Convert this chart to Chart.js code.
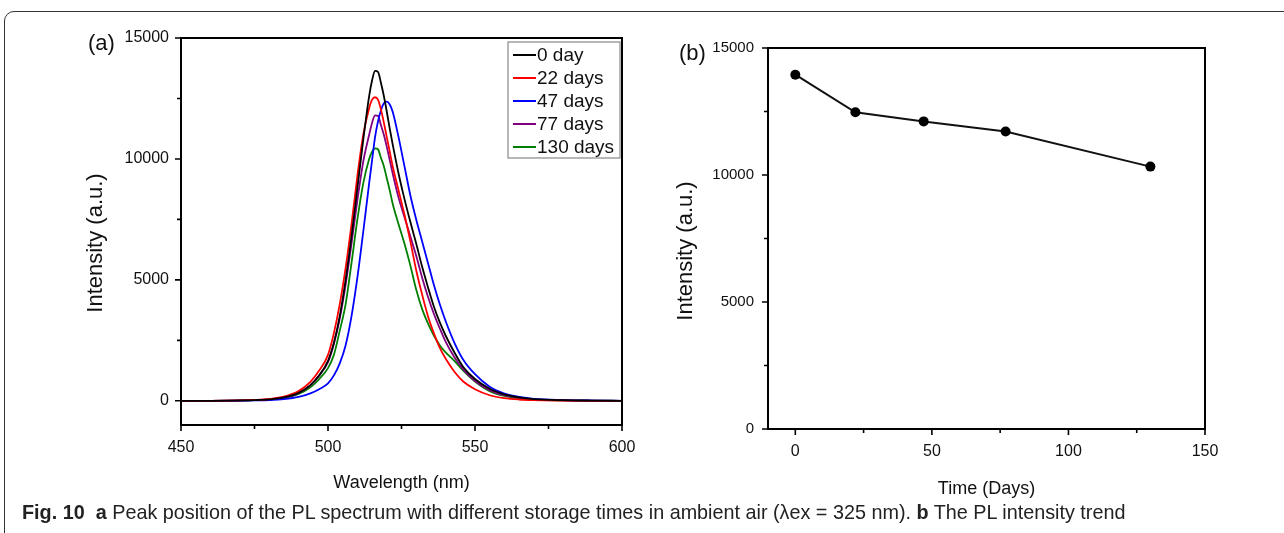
<!DOCTYPE html>
<html>
<head>
<meta charset="utf-8">
<script src="https://cdn.jsdelivr.net/npm/chart.js@4.4.1/dist/chart.umd.min.js"></script>
<style>
html,body{margin:0;padding:0;background:#fff;width:1284px;height:533px;overflow:hidden;position:relative;}
#frame{position:absolute;left:4px;top:11px;width:1320px;height:560px;border:1.5px solid #333;border-radius:10px;box-sizing:border-box;}
#c1{position:absolute;left:0;top:0;}
#c2{position:absolute;left:650px;top:0;}
.plabel{position:absolute;font-family:"Liberation Sans",Arial,sans-serif;font-size:22px;color:#111;line-height:26px;}
#caption{position:absolute;left:22px;top:501px;font-family:"Liberation Sans",Arial,sans-serif;font-size:19.8px;line-height:22px;white-space:nowrap;color:#222;}
</style>
</head>
<body>
<div id="frame"></div>
<canvas id="c1" width="650" height="533"></canvas>
<canvas id="c2" width="634" height="533"></canvas>
<div class="plabel" style="left:88px;top:30px;">(a)</div>
<div class="plabel" style="left:679px;top:40px;">(b)</div>
<div id="caption"><b>Fig. 10</b>&nbsp; <b>a</b> Peak position of the PL spectrum with different storage times in ambient air (λex = 325 nm). <b>b</b> The PL intensity trend</div>
<script>
// ---- Panel (a): PL spectra ----
const wavelengths = [450,460,470,475,480,485,490,494,497,500,502,504,506,508,510,512,514,515,516,517,518,519,520,521,522,524,526,528,530,532,534,536,538,540,543,546,550,555,560,565,570,580,590,600];
const seriesLabels = ["0 day","22 days","47 days","77 days","130 days"];
const seriesColors = ["#000000","#ff0000","#0000ff","#800080","#008000"];
const day0   = [0,0,15,30,60,140,330,650,1050,1650,2400,3500,5000,6800,8800,10800,12600,13250,13640,13600,13150,12600,11950,11250,10600,9400,8350,7400,6500,5550,4700,3900,3250,2700,2000,1400,900,500,270,140,70,25,10,0];
const day22  = [0,0,15,35,75,170,400,780,1250,1900,2800,4000,5500,7300,9300,11000,12100,12450,12550,12450,12050,11500,10900,10300,9700,8700,7700,6600,5400,4400,3500,2800,2200,1750,1200,800,480,230,110,55,30,10,0,0];
const day47  = [0,0,5,15,30,70,160,310,480,720,1050,1550,2300,3500,5100,7000,9000,9950,10900,11550,12000,12300,12370,12250,11950,10900,9700,8500,7500,6600,5700,4800,4000,3300,2400,1700,1100,580,300,160,80,30,10,0];
const day77  = [0,0,10,25,55,130,320,640,1050,1600,2350,3400,4800,6500,8300,9900,11000,11500,11800,11780,11400,11000,10500,9950,9400,8400,7600,6800,6000,5100,4300,3600,3000,2450,1800,1300,820,440,230,120,60,20,5,0];
const day130 = [0,0,10,25,50,120,280,560,900,1350,1900,2900,4000,5700,7500,9000,10000,10300,10440,10400,10050,9700,9200,8700,8150,7300,6500,5600,4600,3800,3200,2700,2300,2000,1650,1250,800,400,200,100,50,15,5,0];
const leftXTicks = [450,500,550,600];
const leftXMinor = [475,525,575];
const leftYTicks = [0,5000,10000,15000];
const leftYMinor = [2500,7500,12500];

// ---- Panel (b): intensity trend ----
const days = [0,22,47,77,130];
const peakIntensity = [13950,12470,12110,11710,10330];
const rightXTicks = [0,50,100,150];
const rightXMinor = [25,75,125];
const rightYTicks = [0,5000,10000,15000];
const rightYMinor = [2500,7500,12500];

const FONT = '"Liberation Sans", Arial, sans-serif';

const frameTicks = {
  id: 'frameTicks',
  afterDatasetsDraw(chart, args, o) {
    const {ctx, chartArea: a, scales: {x, y}} = chart;
    ctx.save();
    ctx.strokeStyle = '#000';
    ctx.lineWidth = 2;
    ctx.strokeRect(a.left, a.top, a.right - a.left, a.bottom - a.top);
    ctx.lineWidth = 1.6;
    ctx.beginPath();
    o.xMajor.forEach(v => { const p = x.getPixelForValue(v); ctx.moveTo(p, a.bottom); ctx.lineTo(p, a.bottom + 6); });
    o.xMinor.forEach(v => { const p = x.getPixelForValue(v); ctx.moveTo(p, a.bottom); ctx.lineTo(p, a.bottom + 4); });
    o.yMajor.forEach(v => { const p = y.getPixelForValue(v); ctx.moveTo(a.left, p); ctx.lineTo(a.left - 6, p); });
    o.yMinor.forEach(v => { const p = y.getPixelForValue(v); ctx.moveTo(a.left, p); ctx.lineTo(a.left - 4, p); });
    ctx.stroke();
    // rotated y-axis title
    ctx.fillStyle = '#111';
    ctx.font = o.titleSize + 'px ' + FONT;
    ctx.textAlign = 'center';
    ctx.textBaseline = 'middle';
    ctx.translate(o.titleX, o.titleY);
    ctx.rotate(-Math.PI / 2);
    ctx.fillText(o.titleText, 0, 0);
    ctx.restore();
  }
};

const boxLegend = {
  id: 'boxLegend',
  afterDraw(chart, args, o) {
    if (!o.show) return;
    const ctx = chart.ctx;
    ctx.save();
    ctx.strokeStyle = '#888';
    ctx.lineWidth = 1.2;
    ctx.strokeRect(o.left, o.top, o.width, o.height);
    ctx.font = o.fontSize + 'px ' + FONT;
    ctx.textBaseline = 'middle';
    ctx.fillStyle = '#111';
    chart.data.datasets.forEach((ds, i) => {
      const yy = o.top + o.firstRow + i * o.rowGap;
      ctx.strokeStyle = ds.borderColor;
      ctx.lineWidth = 2;
      ctx.beginPath();
      ctx.moveTo(o.left + 5, yy);
      ctx.lineTo(o.left + 28, yy);
      ctx.stroke();
      ctx.fillText(ds.label, o.left + 29, yy + 1);
    });
    ctx.restore();
  }
};

function setTicks(arr) {
  return function (scale) { scale.ticks = arr.map(v => ({value: v})); };
}

// Left chart
const specSets = [day0, day22, day47, day77, day130];
new Chart(document.getElementById('c1'), {
  type: 'line',
  data: {
    datasets: specSets.map((vals, i) => ({
      label: seriesLabels[i],
      data: wavelengths.map((w, j) => ({x: w, y: vals[j]})),
      borderColor: seriesColors[i],
      backgroundColor: seriesColors[i],
      borderWidth: 1.8,
      pointRadius: 0,
      cubicInterpolationMode: 'monotone',
      fill: false
    }))
  },
  options: {
    responsive: false,
    animation: false,
    devicePixelRatio: 1,
    layout: {padding: {left: 83, top: 38, right: 28, bottom: 39}},
    plugins: {
      legend: {display: false},
      tooltip: {enabled: false},
      frameTicks: {xMajor: leftXTicks, xMinor: leftXMinor, yMajor: leftYTicks, yMinor: leftYMinor,
                   titleText: 'Intensity (a.u.)', titleX: 96, titleY: 243, titleSize: 22},
      boxLegend: {show: true, left: 508, top: 42, width: 112, height: 116, firstRow: 13, rowGap: 23, fontSize: 19}
    },
    scales: {
      x: {
        type: 'linear', min: 450, max: 600,
        afterBuildTicks: setTicks(leftXTicks),
        afterFit: s => { s.height = 69; },
        grid: {display: false, drawTicks: false},
        border: {display: false},
        ticks: {padding: 13, color: '#111', font: {family: FONT, size: 16}, callback: v => String(v), maxRotation: 0},
        title: {display: true, text: 'Wavelength (nm)', color: '#111', font: {family: FONT, size: 18}, padding: 0}
      },
      y: {
        type: 'linear', min: -1000, max: 15000,
        afterBuildTicks: setTicks(leftYTicks),
        afterFit: s => { s.width = 98; },
        grid: {display: false, drawTicks: false},
        border: {display: false},
        ticks: {padding: 12, color: '#111', font: {family: FONT, size: 16}, callback: v => String(v)},
        title: {display: false}
      }
    }
  },
  plugins: [frameTicks, boxLegend]
});

// Right chart
new Chart(document.getElementById('c2'), {
  type: 'line',
  data: {
    datasets: [{
      label: 'PL intensity',
      data: days.map((d, i) => ({x: d, y: peakIntensity[i]})),
      borderColor: '#111',
      backgroundColor: '#000',
      borderWidth: 2,
      pointRadius: 5,
      pointBorderWidth: 0,
      tension: 0,
      fill: false
    }]
  },
  options: {
    responsive: false,
    animation: false,
    devicePixelRatio: 1,
    layout: {padding: {left: 21, top: 48, right: 79, bottom: 33}},
    plugins: {
      legend: {display: false},
      tooltip: {enabled: false},
      frameTicks: {xMajor: rightXTicks, xMinor: rightXMinor, yMajor: rightYTicks, yMinor: rightYMinor,
                   titleText: 'Intensity (a.u.)', titleX: 36, titleY: 251, titleSize: 22},
      boxLegend: {show: false}
    },
    scales: {
      x: {
        type: 'linear', min: -10, max: 150,
        afterBuildTicks: setTicks(rightXTicks),
        afterFit: s => { s.height = 71; },
        grid: {display: false, drawTicks: false},
        border: {display: false},
        ticks: {padding: 13, color: '#111', font: {family: FONT, size: 16}, callback: v => String(v), maxRotation: 0},
        title: {display: true, text: 'Time (Days)', color: '#111', font: {family: FONT, size: 18}, padding: 0}
      },
      y: {
        type: 'linear', min: 0, max: 15000,
        afterBuildTicks: setTicks(rightYTicks),
        afterFit: s => { s.width = 97; },
        grid: {display: false, drawTicks: false},
        border: {display: false},
        ticks: {padding: 14, color: '#111', font: {family: FONT, size: 15}, callback: v => String(v)},
        title: {display: false}
      }
    }
  },
  plugins: [frameTicks, boxLegend]
});
</script>
</body>
</html>
